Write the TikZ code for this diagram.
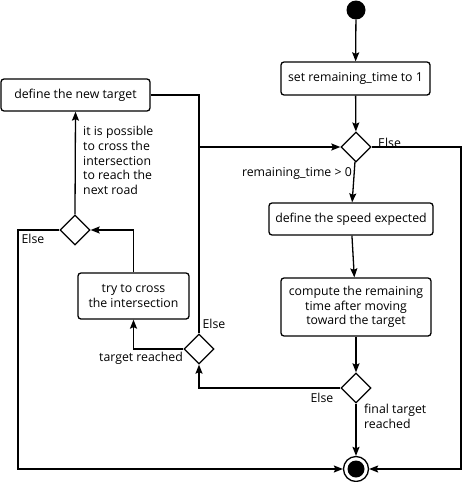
\documentclass[tikz,border=0pt]{standalone}
\usepackage{fontspec}
\setmainfont{Open Sans}
\usetikzlibrary{arrows.meta,shapes.geometric}
\tikzset{
  act/.style={draw, line width=1.3pt, rounded corners=3pt, align=center, inner sep=0pt},
  dec/.style={draw, diamond, line width=1.3pt, minimum width=30pt, minimum height=30pt, inner sep=0pt, fill=white},
  flow/.style={line width=1.3pt, -{Stealth[length=9pt,width=7pt,inset=1.5pt]}},
  plain/.style={line width=1.3pt},
  lbl/.style={inner sep=0pt, align=left},
}
\begin{document}
\begin{tikzpicture}[x=1pt,y=-1pt, every node/.append style={font=\fontsize{12.3}{14.8}\selectfont}]
\useasboundingbox (0,0) rectangle (462,482);
% nodes
\node[circle, fill=black, minimum size=19pt, inner sep=0pt] (start) at (356,10) {};
\node[act, minimum width=149pt, minimum height=33pt] (set) at (355.5,78.5) {set remaining\_time to 1};
\node[dec] (d1) at (356,147) {};
\node[act, minimum width=164pt, minimum height=32pt] (speed) at (351,219) {define the speed expected};
\node[act, minimum width=150pt, minimum height=58pt] (comp) at (356,307) {compute the remaining\\time after moving\\toward the target};
\node[dec] (d2) at (356,388) {};
\node[circle, draw, line width=1.3pt, minimum size=25pt, inner sep=0pt, fill=white] (endo) at (356,469) {};
\node[circle, fill=black, minimum size=17pt, inner sep=0pt] (endi) at (356,469) {};
\node[dec] (d3) at (199,349) {};
\node[act, minimum width=111pt, minimum height=46pt] (try) at (133.5,296) {try to cross\\the intersection};
\node[dec] (d4) at (75,230) {};
\node[act, minimum width=149pt, minimum height=32pt] (newt) at (75.5,95) {define the new target};
\coordinate (j) at (199,147);
\coordinate (rr) at (461,147);
\coordinate (ll) at (18,230);
% labels
\node[lbl, anchor=south west] (e1) at (378,148) {Else};
\node[lbl, anchor=east] (rt) at (352,173) {remaining\_time > 0};
\node[lbl, anchor=center] (e2) at (322,398) {Else};
\node[lbl, anchor=north west] (ftr) at (364,404) {final target\\reached};
\node[lbl, anchor=center] (e3) at (214,324) {Else};
\node[lbl, anchor=east] (tr) at (183,358) {target reached};
\node[lbl, anchor=north west] (pos) at (83,126) {it is possible\\to cross the\\intersection\\to reach the\\next road};
\node[lbl, anchor=center] (e4) at (33,239) {Else};
% connectors
\draw[flow] (start) -- (set);
\draw[flow] (set) -- (d1);
\draw[flow] (d1) -- (speed);
\draw[flow] (speed) -- (comp);
\draw[flow] (comp) -- (d2);
\draw[flow] (d2) -- (endo);
\draw[flow] (d2.west) -| (d3.south);
\draw[flow] (d3.west) -| (try.south);
\draw[flow] (try.north) |- (d4.east);
\draw[flow] (d4.north) -- (newt.south);
\draw[flow] (d4.west) -- (ll) |- (endo.west);
\draw[flow] (d1.east) -- (rr) |- (endo.east);
\draw[flow] (newt.east) -| (j) -- (d1.west);
\draw[plain] (d3.north) -- (j);
\end{tikzpicture}
\end{document}
